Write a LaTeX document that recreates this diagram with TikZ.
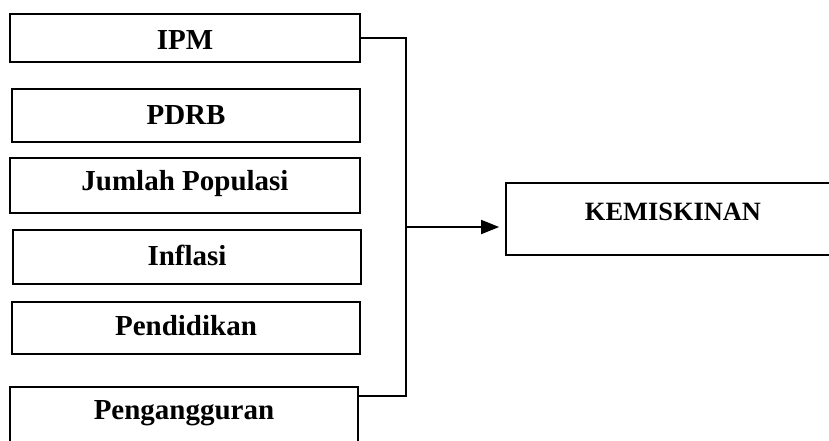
\documentclass[tikz,border=0pt]{standalone}
\usepackage{fontspec}
\setmainfont{Liberation Serif}
\usepackage{tikz}
\usetikzlibrary{arrows.meta}

\tikzset{
	varbox/.style={draw, line width=0.85pt, minimum width=174pt, inner sep=0pt,
		font=\fontsize{14.5}{17}\selectfont\bfseries, text height=0.8em, text depth=0pt},
	link/.style={line width=0.9pt},
}

\begin{document}
\begin{tikzpicture}[x=0.5pt,y=-0.5pt]
		\useasboundingbox (0,0) rectangle (829,440);
		\node[varbox, minimum width=175pt, minimum height=24pt, text height=1.1em] (ipm) at (185,38) {IPM};
		\node[varbox, minimum height=26.5pt, text height=0.9em] (pdrb) at (186,115.5) {PDRB};
		\node[varbox, minimum width=175pt, minimum height=27.5pt, text height=0.5em] (jumlah) at (185,185.5) {Jumlah Populasi};
		\node[varbox, minimum height=27pt] (inflasi) at (187,257) {Inflasi};
		\node[varbox, minimum height=26pt, text height=0.7em] (pendidikan) at (186,328) {Pendidikan};
		\node[varbox, minimum height=30pt, text height=0.66em, text depth=0.41em] (pengangguran) at (184,417) {Pengangguran};
		\node[varbox, minimum width=167pt, minimum height=36pt, font=\fontsize{13.2}{16}\selectfont\bfseries, text height=0.66em, text depth=0.53em] (kemiskinan) at (673,219) {KEMISKINAN};
		\coordinate (bus) at (406,227);
		\draw[link] (ipm.east) -| (bus) |- ([yshift=-5pt]pengangguran.north east);
		\draw[link, -{Triangle[length=9pt,width=7pt]}, shorten >=3pt] (bus) -- (kemiskinan.west |- bus);
		\end{tikzpicture}
\end{document}
